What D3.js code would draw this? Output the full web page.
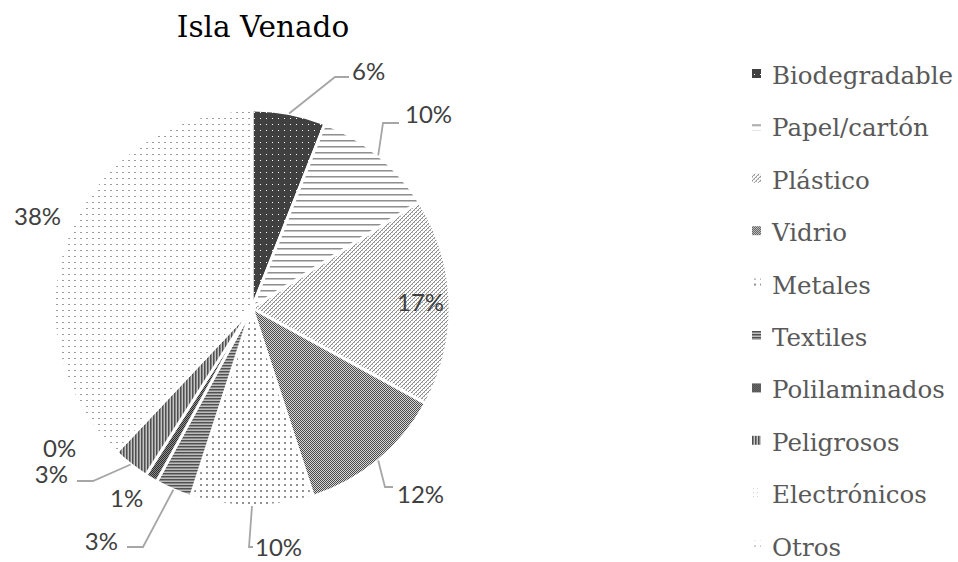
<!DOCTYPE html>
<html>
<head>
<meta charset="utf-8">
<script src="https://cdn.jsdelivr.net/npm/d3@7"></script>
<style>
  body { margin: 0; background: #fff; }
  svg { display: block; }
</style>
</head>
<body>
<svg id="chart" width="958" height="562"></svg>
<script>
// Waste composition, Isla Venado
const categories = ["Biodegradable", "Papel/cartón", "Plástico", "Vidrio", "Metales",
                    "Textiles", "Polilaminados", "Peligrosos", "Electrónicos", "Otros"];
const shares = [6, 10, 17, 12, 10, 3, 1, 3, 0, 38];
const title = "Isla Venado";

// Fill pattern ids, one per category
const patternIds = ["pBio", "pPapel", "pPlastico", "pVidrio", "pMetales",
                    "pTextiles", "pPoli", "pPeligrosos", "pElectronicos", "pOtros"];

// Label placement relative to the pie centre: text anchor point, and optional leader elbow/end
const labelSpots = [
  { x: 100,  y: -228, anchor: "start", leader: [[83, -231], [97, -231]] },
  { x: 153,  y: -185, anchor: "start", leader: [[131, -185], [147, -185]] },
  { x: 145,  y: 3,    anchor: "start", leader: null },
  { x: 145,  y: 195,  anchor: "start", leader: [[133, 179], [141, 179]] },
  { x: 3,    y: 248,  anchor: "start", leader: [[-3, 239], [1, 239]] },
  { x: -134, y: 242,  anchor: "end",   leader: [[-109, 239], [-125, 239]] },
  { x: -142, y: 199,  anchor: "start", leader: null },
  { x: -184, y: 175,  anchor: "end",   leader: [[-159, 173], [-175, 173]] },
  { x: -209, y: 149,  anchor: "start", leader: null },
  { x: -238, y: -83,  anchor: "start", leader: null }
];

const svg = d3.select("#chart");
const cx = 252, cy = 308, radius = 198;

// ---- pattern fills ----
const defs = svg.append("defs");
function pattern(id, w, h) {
  return defs.append("pattern").attr("id", id)
    .attr("patternUnits", "userSpaceOnUse")
    .attr("width", w).attr("height", h);
}
function px(p, x, y, w, h, fill) {
  p.append("rect").attr("x", x).attr("y", y).attr("width", w).attr("height", h).attr("fill", fill);
}
// dark with white dots
let p = pattern("pBio", 6, 6);
px(p, 0, 0, 6, 6, "#404040"); px(p, 2, 2, 1, 1, "#ffffff");
// horizontal grey lines
p = pattern("pPapel", 6, 6);
px(p, 0, 0, 6, 6, "#ffffff"); px(p, 0, 0, 6, 1, "#8f8f8f"); px(p, 0, 1, 6, 1, "#c4c4c4");
// light diagonal weave
p = pattern("pPlastico", 4, 4);
px(p, 0, 0, 4, 4, "#ffffff");
px(p, 3, 0, 1, 1, "#8c8c8c"); px(p, 2, 1, 1, 1, "#8c8c8c");
px(p, 1, 2, 1, 1, "#8c8c8c"); px(p, 0, 3, 1, 1, "#8c8c8c");
px(p, 0, 0, 1, 1, "#b8b8b8"); px(p, 2, 2, 1, 1, "#b8b8b8");
// fine checker
p = pattern("pVidrio", 2, 2);
px(p, 0, 0, 2, 2, "#d6d6d6"); px(p, 0, 0, 1, 1, "#4a4a4a"); px(p, 1, 1, 1, 1, "#4a4a4a");
// grey dots on white
p = pattern("pMetales", 6, 6);
px(p, 0, 0, 6, 6, "#ffffff"); px(p, 2, 2, 2, 2, "#929292");
// dense horizontal stripes
p = pattern("pTextiles", 3, 3);
px(p, 0, 0, 3, 3, "#bdbdbd"); px(p, 0, 0, 3, 1, "#505050"); px(p, 0, 1, 3, 1, "#8a8a8a");
// dark checker
p = pattern("pPoli", 2, 2);
px(p, 0, 0, 2, 2, "#8c8c8c"); px(p, 0, 0, 1, 1, "#2e2e2e"); px(p, 1, 1, 1, 1, "#2e2e2e");
// dense vertical stripes
p = pattern("pPeligrosos", 3, 3);
px(p, 0, 0, 3, 3, "#c4c4c4"); px(p, 0, 0, 1, 3, "#4f4f4f"); px(p, 1, 0, 1, 3, "#858585");
// sparse light dots
p = pattern("pElectronicos", 4, 4);
px(p, 0, 0, 4, 4, "#ffffff"); px(p, 1, 1, 1, 1, "#c8c8c8");
// short horizontal dashes
p = pattern("pOtros", 6, 6);
px(p, 0, 0, 6, 6, "#ffffff"); px(p, 2, 2, 2, 1, "#9c9c9c");

// ---- pie ----
const pie = d3.pie().sort(null).value(d => d)(shares);
const arc = d3.arc().innerRadius(0).outerRadius(radius);

const g = svg.append("g").attr("transform", `translate(${cx},${cy})`);

g.selectAll("path.slice")
  .data(pie)
  .join("path")
  .attr("class", "slice")
  .attr("d", arc)
  .attr("fill", (d, i) => `url(#${patternIds[i]})`)
  .attr("stroke", "#ffffff")
  .attr("stroke-width", 3)
  .attr("stroke-linejoin", "round");

// leader lines from the outer arc to the label
pie.forEach((d, i) => {
  const spot = labelSpots[i];
  if (!spot.leader) return;
  const mid = (d.startAngle + d.endAngle) / 2;
  const start = [Math.sin(mid) * radius, -Math.cos(mid) * radius];
  g.append("path")
    .attr("d", d3.line()([start, spot.leader[0], spot.leader[1]]))
    .attr("fill", "none")
    .attr("stroke", "#a6a6a6")
    .attr("stroke-width", 1.8);
});

// percentage labels
g.selectAll("text.pct")
  .data(pie)
  .join("text")
  .attr("class", "pct")
  .attr("x", (d, i) => labelSpots[i].x)
  .attr("y", (d, i) => labelSpots[i].y)
  .attr("text-anchor", (d, i) => labelSpots[i].anchor)
  .attr("font-family", "Lato, 'Open Sans', sans-serif")
  .attr("font-size", 24)
  .attr("fill", "#404040")
  .text(d => `${Math.round(d.value)}%`);

// ---- title ----
svg.append("text")
  .attr("x", 263).attr("y", 37)
  .attr("text-anchor", "middle")
  .attr("font-family", "'DejaVu Serif', serif")
  .attr("font-size", 29.5)
  .attr("fill", "#000000")
  .text(title);

// ---- legend ----
const legend = svg.append("g").attr("transform", "translate(752,84)");
const rowStep = 52.4;
const rows = legend.selectAll("g.row")
  .data(categories)
  .join("g")
  .attr("class", "row")
  .attr("transform", (d, i) => `translate(0,${i * rowStep})`);

rows.append("rect")
  .attr("x", 0).attr("y", -15)
  .attr("width", 9).attr("height", 9)
  .attr("fill", (d, i) => `url(#${patternIds[i]})`);

rows.append("text")
  .attr("x", 20).attr("y", 0)
  .attr("font-family", "'DejaVu Serif', serif")
  .attr("font-size", 24.5)
  .attr("fill", "#595959")
  .text(d => d);
</script>
</body>
</html>
